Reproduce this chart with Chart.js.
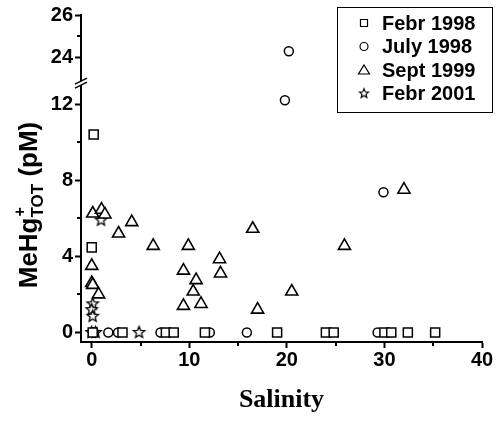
<!DOCTYPE html>
<html>
<head>
<meta charset="utf-8">
<script src="https://cdn.jsdelivr.net/npm/chart.js@4/dist/chart.umd.min.js"></script>
<style>
  html, body { margin: 0; padding: 0; background: #fff; }
</style>
</head>
<body>
<canvas id="salinityChart" width="497" height="421"></canvas>
<script>
// values
const seriesNames = ["Febr 1998", "July 1998", "Sept 1999", "Febr 2001"];

const febr1998Salinity = [0.2, 0, 0.1, 3.15, 7.6, 8.4, 11.6, 19.0, 24.0, 24.8, 30.0, 30.7, 32.4, 35.2];
const febr1998MeHg = [10.4, 4.47, 0, 0, 0, 0, 0, 0, 0, 0, 0, 0, 0, 0];

const july1998Salinity = [20.2, 19.8, 29.9, 0.2, 1.7, 2.7, 7.05, 12.1, 15.9, 29.3];
const july1998MeHg = [24.3, 12.2, 7.37, 0, 0, 0, 0, 0, 0, 0];

const sept1999Salinity = [0.1, 1.0, 1.35, 2.75, 4.1, 6.3, 0, 0, 0.1, 0.7, 9.9, 9.4, 10.7, 10.4, 9.4, 11.2, 13.1, 13.2, 16.5, 17.0, 20.5, 25.9, 32.0];
const sept1999MeHg = [6.25, 6.45, 6.2, 5.2, 5.8, 4.55, 3.5, 2.6, 2.5, 2.0, 4.55, 3.25, 2.75, 2.15, 1.4, 1.5, 3.85, 3.1, 5.45, 1.2, 2.15, 4.55, 7.5];

const febr2001Salinity = [0.95, 0.1, 0, 0.1, 0, 0.4, 4.85];
const febr2001MeHg = [5.9, 1.5, 1.2, 0.85, 0, 0, 0];

// axis ticks
const xMajorTicks = [0, 10, 20, 30, 40];
const xMinorTicks = [5, 15, 25, 35];
const yLowMajorTicks = [0, 4, 8, 12];
const yLowMinorTicks = [2, 6, 10];
const yHighMajorTicks = [24, 26];
const yHighMinorTicks = [25];

// broken axis ranges
const yLowRange = [-0.5, 13.1];
const yHighRange = [22.8, 26];
const xRange = [-1.1, 40];

function makeStar(outer, lw) {
  const size = Math.ceil(outer * 2 + lw * 2 + 2);
  const c = document.createElement("canvas");
  c.width = size;
  c.height = size;
  const g = c.getContext("2d");
  const cx = size / 2, cy = size / 2, inner = outer * 0.45;
  g.beginPath();
  for (let i = 0; i < 10; i++) {
    const r = i % 2 ? inner : outer;
    const a = -Math.PI / 2 + i * Math.PI / 5;
    g.lineTo(cx + r * Math.cos(a), cy + r * Math.sin(a));
  }
  g.closePath();
  g.fillStyle = "#fff";
  g.fill();
  g.lineWidth = lw;
  g.strokeStyle = "#000";
  g.stroke();
  return c;
}

const starMark = makeStar(6, 1.3);
const starSmall = makeStar(4.8, 1.2);

function toPoints(xs, ys, keep) {
  const pts = [];
  xs.forEach((x, i) => { if (keep(ys[i])) pts.push({ x: x, y: ys[i] }); });
  return pts;
}
const isLow = v => v <= yLowRange[1];
const isHigh = v => v >= yHighRange[0];

const markStyles = [
  { pointStyle: "rect", pointRadius: 6.4, pointBorderWidth: 1.5 },
  { pointStyle: "circle", pointRadius: 4.5, pointBorderWidth: 1.5 },
  { pointStyle: "triangle", pointRadius: 7, pointBorderWidth: 1.6 },
  { pointStyle: starMark, pointRadius: 6, pointBorderWidth: 1 }
];
const allX = [febr1998Salinity, july1998Salinity, sept1999Salinity, febr2001Salinity];
const allY = [febr1998MeHg, july1998MeHg, sept1999MeHg, febr2001MeHg];

const datasets = [];
seriesNames.forEach((name, i) => {
  const base = Object.assign({
    label: name,
    pointBackgroundColor: "#fff",
    pointBorderColor: "#000",
    showLine: false,
    clip: false
  }, markStyles[i]);
  datasets.push(Object.assign({}, base, { data: toPoints(allX[i], allY[i], isLow), yAxisID: "y" }));
  const high = toPoints(allX[i], allY[i], isHigh);
  if (high.length) datasets.push(Object.assign({}, base, { data: high, yAxisID: "y2" }));
});

function tickSet(values) {
  return s => { s.ticks = values.map(v => ({ value: v })); };
}

const gridStyle = { drawOnChartArea: false, tickLength: 6, tickWidth: 2, tickColor: "#000" };
const borderStyle = { color: "#000", width: 2 };
const tickFont = { family: "'Liberation Sans', Arial, sans-serif", size: 20, weight: "bold" };

// minor ticks, shorter than the major ones
const minorTicks = {
  id: "minorTicks",
  afterDraw(chart) {
    const ctx = chart.ctx;
    const { x, y, y2 } = chart.scales;
    ctx.save();
    ctx.strokeStyle = "#000";
    ctx.lineWidth = 2;
    ctx.beginPath();
    xMinorTicks.forEach(v => {
      const px = Math.round(x.getPixelForValue(v));
      ctx.moveTo(px, x.top);
      ctx.lineTo(px, x.top + 4);
    });
    [[y, yLowMinorTicks], [y2, yHighMinorTicks]].forEach(([sc, vals]) => {
      vals.forEach(v => {
        const py = Math.round(sc.getPixelForValue(v));
        ctx.moveTo(sc.right, py);
        ctx.lineTo(sc.right - 4, py);
      });
    });
    ctx.stroke();
    ctx.restore();
  }
};

// "//" mark where the y axis is broken
const axisBreak = {
  id: "axisBreak",
  afterDraw(chart) {
    const ctx = chart.ctx;
    const sc = chart.scales.y;
    const ax = chart.chartArea.left;
    const by = sc.top;
    ctx.save();
    ctx.fillStyle = "#fff";
    ctx.fillRect(ax - 2, by - 2, 4, 4);
    ctx.strokeStyle = "#000";
    ctx.lineWidth = 1.6;
    ctx.beginPath();
    ctx.moveTo(ax - 6, by + 1);
    ctx.lineTo(ax + 6, by - 5);
    ctx.moveTo(ax - 6, by + 5);
    ctx.lineTo(ax + 6, by - 1);
    ctx.stroke();
    ctx.restore();
  }
};

const yTitle = {
  id: "yTitle",
  afterDraw(chart) {
    const ctx = chart.ctx;
    const big = "bold 26px 'Liberation Sans', Arial, sans-serif";
    const sub = "bold 17px 'Liberation Sans', Arial, sans-serif";
    const sup = "bold 16px 'Liberation Sans', Arial, sans-serif";
    ctx.save();
    ctx.font = big;
    const wMain = ctx.measureText("MeHg").width;
    const wTail = ctx.measureText(" (pM)").width;
    ctx.font = sub;
    const wSub = ctx.measureText("TOT").width;
    const total = wMain + wSub + wTail;
    ctx.translate(37, 205);
    ctx.rotate(-Math.PI / 2);
    ctx.fillStyle = "#000";
    ctx.textAlign = "left";
    ctx.textBaseline = "alphabetic";
    let pos = -total / 2;
    ctx.font = big;
    ctx.fillText("MeHg", pos, 0);
    pos += wMain;
    ctx.font = sup;
    ctx.fillText("+", pos + 1, -12);
    ctx.font = sub;
    ctx.fillText("TOT", pos, 6);
    pos += wSub;
    ctx.font = big;
    ctx.fillText(" (pM)", pos, 0);
    ctx.restore();
  }
};

function legendMark(ctx, i, cx, cy) {
  ctx.beginPath();
  if (i === 0) {
    ctx.rect(cx - 3.5, cy - 3.5, 7, 7);
  } else if (i === 1) {
    ctx.arc(cx, cy, 4, 0, Math.PI * 2);
  } else if (i === 2) {
    ctx.moveTo(cx, cy - 5);
    ctx.lineTo(cx + 5.5, cy + 4);
    ctx.lineTo(cx - 5.5, cy + 4);
    ctx.closePath();
  } else {
    ctx.drawImage(starSmall, cx - starSmall.width / 2, cy - starSmall.height / 2);
    return;
  }
  ctx.stroke();
}

const boxLegend = {
  id: "boxLegend",
  afterDraw(chart) {
    const ctx = chart.ctx;
    ctx.save();
    ctx.strokeStyle = "#000";
    ctx.lineWidth = 1;
    ctx.strokeRect(337.5, 7.5, 155, 105);
    ctx.lineWidth = 1.2;
    ctx.fillStyle = "#000";
    ctx.font = "bold 20px 'Liberation Sans', Arial, sans-serif";
    ctx.textBaseline = "middle";
    seriesNames.forEach((name, i) => {
      const cy = 23 + i * 23.5;
      legendMark(ctx, i, 364, cy);
      ctx.fillText(name, 382, cy + 1);
    });
    ctx.restore();
  }
};

new Chart(document.getElementById("salinityChart"), {
  type: "scatter",
  data: { datasets: datasets },
  options: {
    responsive: false,
    animation: false,
    layout: { padding: { left: 0, top: 15, right: 15, bottom: 0 } },
    plugins: { legend: { display: false }, tooltip: { enabled: false } },
    scales: {
      x: {
        type: "linear",
        min: xRange[0],
        max: xRange[1],
        afterBuildTicks: tickSet(xMajorTicks),
        afterFit: s => { s.height = 79; },
        grid: gridStyle,
        border: borderStyle,
        ticks: { color: "#000", font: tickFont, padding: 0, maxRotation: 0 },
        title: {
          display: true,
          text: "Salinity",
          color: "#000",
          font: { family: "'Liberation Serif', 'Times New Roman', serif", size: 26, weight: "bold" },
          padding: { top: 0, bottom: 5 }
        }
      },
      y: {
        type: "linear",
        position: "left",
        stack: "mehg",
        stackWeight: 3.8,
        min: yLowRange[0],
        max: yLowRange[1],
        afterBuildTicks: tickSet(yLowMajorTicks),
        afterFit: s => { s.width = 81; },
        grid: gridStyle,
        border: borderStyle,
        ticks: { color: "#000", font: tickFont, padding: 2 }
      },
      y2: {
        type: "linear",
        position: "left",
        stack: "mehg",
        stackWeight: 1,
        min: yHighRange[0],
        max: yHighRange[1],
        afterBuildTicks: tickSet(yHighMajorTicks),
        afterFit: s => { s.width = 81; },
        grid: gridStyle,
        border: borderStyle,
        ticks: { color: "#000", font: tickFont, padding: 2 }
      }
    }
  },
  plugins: [minorTicks, axisBreak, yTitle, boxLegend]
});
</script>
</body>
</html>
